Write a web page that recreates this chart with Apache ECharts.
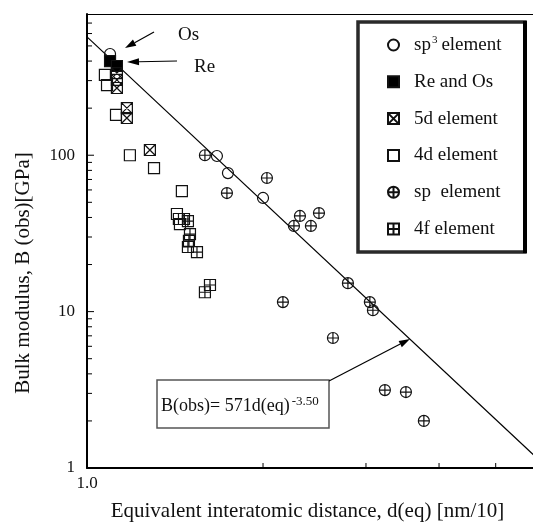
<!DOCTYPE html>
<html>
<head>
<meta charset="utf-8">
<script src="https://cdn.jsdelivr.net/npm/echarts@6/dist/echarts.min.js"></script>
<style>
  html, body { margin: 0; padding: 0; background: #fff; }
  #chart { width: 533px; height: 523px; }
</style>
</head>
<body>
<div id="chart"></div>
<script>
// Bulk modulus against equivalent interatomic distance; each pair is [d(eq) in nm/10, B(obs) in GPa]
const sp3Points = [[1.095, 444], [1.668, 98.9], [1.742, 76.9], [2.0, 53.3]];
const reOsPoints = [[1.095, 400], [1.125, 372]];
const d5Points = [[1.125, 335], [1.125, 303], [1.125, 269], [1.170, 200], [1.170, 173], [1.281, 108]];
const d4Points = [[1.073, 326], [1.082, 281], [1.121, 181], [1.184, 100], [1.302, 82.8], [1.453, 59.0],
                  [1.425, 42.1], [1.436, 39.1], [1.442, 36.3]];
const spPoints = [[1.591, 100], [1.735, 57.3], [2.031, 71.5], [2.259, 35.3], [2.313, 40.9], [2.415, 35.3],
                  [2.493, 42.7], [2.163, 11.5], [2.794, 15.2], [3.046, 11.5], [3.083, 10.2], [2.634, 6.78],
                  [3.232, 3.15], [3.511, 3.06], [3.768, 2.0]];
const f4Points = [[1.465, 39.1], [1.488, 37.9], [1.500, 31.3], [1.494, 28.3], [1.488, 25.9], [1.542, 24.0],
                  [1.591, 13.3], [1.623, 14.8]];

const seriesNames = ['sp3 element', 'Re and Os', '5d element', '4d element', 'sp  element', '4f element'];

// Power-law fit B(obs) = 571 d(eq)^-3.50
const fitCoef = 571;
const fitExp = -3.50;
const fitRange = [1, 6];

// Axis ranges and ticks
const xRange = [1, 6];
const yRange = [1, 800];
const xTickLabels = [1];
const yTickLabels = [1, 10, 100];
const xMinorTicks = [2, 3, 4, 5];
const yMinorTicks = [2, 3, 4, 5, 6, 7, 8, 9, 20, 30, 40, 50, 60, 70, 80, 90, 200, 300, 400, 500, 600, 700];
const yMajorTicks = [10, 100];

const FONT = '"Liberation Serif", "DejaVu Serif", serif';
const INK = '#111';

const SYM_SQUARE = 'path://M0 0H10V10H0Z';
const SYM_XSQUARE = 'path://M0 0H10V10H0Z M0 0L10 10 M10 0L0 10';
const SYM_PSQUARE = 'path://M0 0H10V10H0Z M5 0L5 10 M0 5L10 5';
const SYM_PCIRCLE = 'path://M0 5A5 5 0 1 1 10 5A5 5 0 1 1 0 5Z M5 0L5 10 M0 5L10 5';

function near(v, list) {
  return list.some(t => Math.abs(v - t) < 1e-6 * t);
}

function scatter(name, data, symbol, filled) {
  return {
    type: 'scatter',
    name: name,
    data: data,
    symbol: symbol,
    symbolSize: 11,
    symbolKeepAspect: true,
    silent: true,
    z: 4,
    itemStyle: {
      color: filled ? '#000' : 'rgba(0,0,0,0)',
      borderColor: '#111',
      borderWidth: 1.2,
      opacity: 1
    }
  };
}

// Minor/major tick marks drawn inward from the axes: [x, y, length, vertical?]
const tickData = []
  .concat(xMinorTicks.map(v => [v, yRange[0], 5, 1]))
  .concat(yMinorTicks.map(v => [xRange[0], v, 5, 0]))
  .concat(yMajorTicks.map(v => [xRange[0], v, 7, 0]));

function arrow(x1, y1, x2, y2, headLen, headW) {
  const dx = x2 - x1, dy = y2 - y1;
  const L = Math.sqrt(dx * dx + dy * dy);
  const ux = dx / L, uy = dy / L;
  const bx = x2 - ux * headLen, by = y2 - uy * headLen;
  const nx = -uy * headW / 2, ny = ux * headW / 2;
  return [
    { type: 'line', shape: { x1: x1, y1: y1, x2: bx, y2: by }, style: { stroke: '#000', lineWidth: 1.2 }, z: 20 },
    { type: 'polygon', shape: { points: [[x2, y2], [bx + nx, by + ny], [bx - nx, by - ny]] }, style: { fill: '#000' }, z: 20 }
  ];
}

const chart = echarts.init(document.getElementById('chart'), null, { renderer: 'canvas' });

chart.setOption({
  animation: false,
  backgroundColor: '#fff',
  grid: { left: 87, top: 14, right: -9, bottom: 55, containLabel: false, outerBoundsMode: 'none' },
  xAxis: [{
    type: 'log',
    logBase: 10,
    min: xRange[0],
    max: xRange[1],
    name: 'Equivalent interatomic distance, d(eq) [nm/10]',
    nameLocation: 'middle',
    nameGap: 33,
    nameTextStyle: { fontFamily: FONT, fontSize: 21, color: INK, padding: [0, 14, 0, 0] },
    axisLine: { show: true, lineStyle: { color: '#000', width: 2 } },
    axisTick: { show: false },
    splitLine: { show: false },
    axisLabel: {
      fontFamily: FONT, fontSize: 17, color: INK, margin: 7,
      showMaxLabel: false,
      formatter: v => near(v, xTickLabels) ? v.toFixed(1) : ''
    }
  }, {
    type: 'log',
    position: 'top',
    min: xRange[0],
    max: xRange[1],
    axisLine: { show: true, lineStyle: { color: '#000', width: 1.2 } },
    axisTick: { show: false },
    axisLabel: { show: false },
    splitLine: { show: false }
  }],
  yAxis: {
    type: 'log',
    logBase: 10,
    min: yRange[0],
    max: yRange[1],
    axisLine: { show: true, lineStyle: { color: '#000', width: 2 } },
    axisTick: { show: false },
    splitLine: { show: false },
    axisLabel: {
      fontFamily: FONT, fontSize: 17, color: INK, margin: 12,
      showMaxLabel: false,
      formatter: v => near(v, yTickLabels) ? String(Math.round(v)) : ''
    }
  },
  legend: {
    orient: 'vertical',
    left: 387,
    top: 35,
    padding: 0,
    itemGap: 16.8,
    itemWidth: 11,
    itemHeight: 11,
    selectedMode: false,
    data: seriesNames,
    formatter: name => name === seriesNames[0] ? '{t|sp}{s|3}{t|element}' : name,
    textStyle: {
      fontFamily: FONT, fontSize: 19, color: INK, lineHeight: 20, padding: [0, 0, 0, 10],
      rich: {
        t: { fontFamily: FONT, fontSize: 19, color: INK, lineHeight: 20 },
        s: { fontFamily: FONT, fontSize: 11, color: INK, lineHeight: 15, verticalAlign: 'top', padding: [0, 4, 0, 1] }
      }
    }
  },
  series: [
    {
      type: 'line',
      name: 'fit',
      data: fitRange.map(d => [d, fitCoef * Math.pow(d, fitExp)]),
      symbol: 'none',
      silent: true,
      z: 3,
      lineStyle: { color: '#000', width: 1.2 }
    },
    {
      type: 'custom',
      name: 'ticks',
      coordinateSystem: 'cartesian2d',
      silent: true,
      clip: false,
      z: 5,
      data: tickData,
      renderItem: (params, api) => {
        const p = api.coord([api.value(0), api.value(1)]);
        const len = api.value(2);
        const vertical = api.value(3) === 1;
        return {
          type: 'line',
          shape: vertical
            ? { x1: p[0], y1: p[1], x2: p[0], y2: p[1] - len }
            : { x1: p[0], y1: p[1], x2: p[0] + len, y2: p[1] },
          style: { stroke: '#000', lineWidth: 1 }
        };
      }
    },
    scatter(seriesNames[0], sp3Points, 'circle', false),
    scatter(seriesNames[1], reOsPoints, SYM_SQUARE, true),
    scatter(seriesNames[2], d5Points, SYM_XSQUARE, false),
    scatter(seriesNames[3], d4Points, SYM_SQUARE, false),
    scatter(seriesNames[4], spPoints, SYM_PCIRCLE, false),
    scatter(seriesNames[5], f4Points, SYM_PSQUARE, false)
  ],
  graphic: [
    // y-axis title
    {
      type: 'text', x: 23, y: 273, rotation: Math.PI / 2, z: 20,
      style: { text: 'Bulk modulus, B (obs)[GPa]', fontFamily: FONT, fontSize: 21, fill: INK, align: 'center', verticalAlign: 'middle' }
    },
    // legend frame
    { type: 'rect', z: 1, shape: { x: 358, y: 22, width: 167, height: 230 }, style: { fill: '#fff', stroke: '#2a2a2a', lineWidth: 3.5 } },
    { type: 'line', z: 2, shape: { x1: 525, y1: 21, x2: 525, y2: 253 }, style: { stroke: '#000', lineWidth: 4 } },
    // Os / Re callouts
    { type: 'text', x: 178, y: 35, z: 20, style: { text: 'Os', fontFamily: FONT, fontSize: 19, fill: INK, verticalAlign: 'middle' } },
    { type: 'text', x: 194, y: 67, z: 20, style: { text: 'Re', fontFamily: FONT, fontSize: 19, fill: INK, verticalAlign: 'middle' } },
    ...arrow(154, 32, 125, 48, 11, 7),
    ...arrow(177, 61, 127, 62, 12, 7),
    // equation box
    { type: 'rect', z: 15, shape: { x: 157, y: 380, width: 172, height: 48 }, style: { fill: '#fff', stroke: '#555', lineWidth: 1.5 } },
    {
      type: 'text', x: 161, y: 406, z: 20,
      style: {
        text: '{m|B(obs)= 571d(eq)}{s|-3.50}',
        verticalAlign: 'middle',
        rich: {
          m: { fontFamily: FONT, fontSize: 18, fill: INK, lineHeight: 22 },
          s: { fontFamily: FONT, fontSize: 13, fill: INK, lineHeight: 13, verticalAlign: 'top', padding: [0, 0, 0, 2] }
        }
      }
    },
    ...arrow(329, 381, 410, 339, 11, 7)
  ]
});
</script>
</body>
</html>
